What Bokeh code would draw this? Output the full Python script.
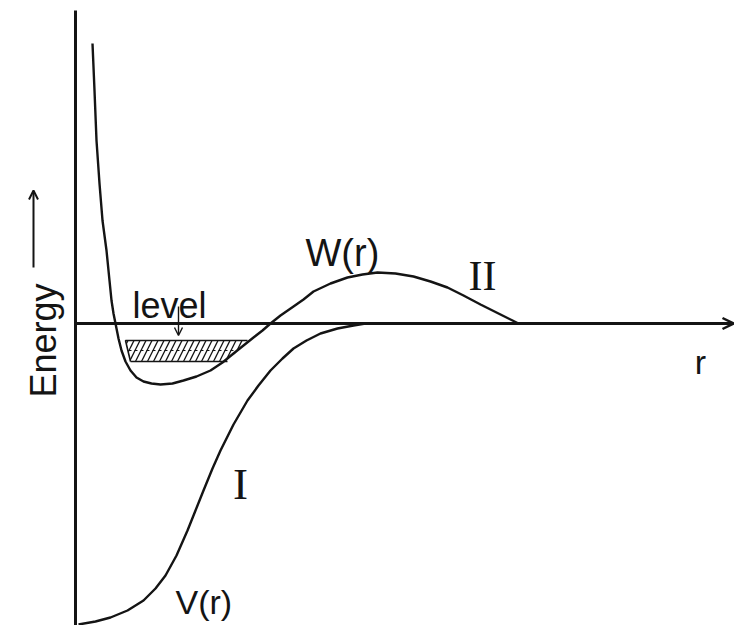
from math import pi

from bokeh.core.properties import value
from bokeh.embed import file_html
from bokeh.models import Arrow, OpenHead, Range1d
from bokeh.plotting import figure
from bokeh.resources import INLINE

# Schematic potential curves (arbitrary units): r along x, energy along y,
# energy zero on the r axis.
r_W = [17, 19, 21, 24, 27, 31, 34, 36, 38, 40, 43, 46, 50, 55, 61, 68, 76, 85,
       97, 108, 121, 135, 147, 158, 168, 178, 187, 195, 205, 218, 228, 238,
       255, 272, 287, 302, 320, 338, 355, 372, 388, 405, 425, 443]
E_W = [280, 233, 183, 140, 103, 73, 43, 23, 10, 0, -15, -27, -38, -47, -54,
       -58, -60, -61, -60, -57, -53, -47, -39, -30, -22, -14, -7, 0, 8, 17,
       24, 32, 40, 46, 49, 51, 50, 47, 42, 36, 28, 19, 9, 0]

r_V = [3, 20, 35, 52, 68, 80, 90, 101, 112, 120, 128, 137, 145, 158, 172,
       183, 195, 207, 218, 231, 245, 262, 278, 290]
E_V = [-301, -298, -294, -287, -277, -265, -252, -232, -207, -187, -167,
       -145, -127, -101, -77, -62, -47, -35, -25, -17, -10, -5, -2, 0]

# Quasi-bound level band inside the well of W(r)
band_r = [50, 172, 152, 55]
band_E = [-17, -17, -38, -38]
band_mid_E = -27

# Axes extents
r_axis_end = 658
E_axis_top = 313
E_axis_bottom = -302

INK = "#141414"
SANS = value("Liberation Sans")
SERIF = value("Liberation Serif")

p = figure(width=734, height=625, x_range=Range1d(-75, 659),
           y_range=Range1d(-302, 323), x_axis_type=None, y_axis_type=None,
           min_border=0, toolbar_location=None, output_backend="svg",
           outline_line_color=None, background_fill_color="white",
           border_fill_color="white")
p.grid.visible = False

# Energy axis (plain line) and r axis (open arrowhead)
p.line([0, 0], [E_axis_bottom, E_axis_top], line_color=INK, line_width=3)
p.add_layout(Arrow(x_start=0, y_start=0, x_end=r_axis_end, y_end=0,
                   line_color=INK, line_width=3,
                   end=OpenHead(size=11, line_color=INK, line_width=2.5)))

# Hatched level band
p.patch(band_r, band_E, fill_color=None, line_color=None,
        hatch_pattern="/", hatch_color=INK, hatch_scale=12, hatch_weight=1.3)
p.line([band_r[3], band_r[0], band_r[1]], [band_E[3], band_E[0], band_E[1]],
       line_color=INK, line_width=1.6)
p.line([band_r[3], band_r[2]], [band_E[3], band_E[2]],
       line_color=INK, line_width=1.6)
p.line([band_r[0] + 3, band_r[2] + 8], [band_mid_E, band_mid_E],
       line_color=INK, line_width=1.0, line_dash="3 3")

# Potential curves
p.line(r_W, E_W, line_color=INK, line_width=2.4, line_join="round")
p.line(r_V, E_V, line_color=INK, line_width=2.4, line_join="round")

# Arrow from the "level" label down to the band
p.add_layout(Arrow(x_start=103, y_start=17, x_end=103, y_end=-12,
                   line_color=INK, line_width=1.4,
                   end=OpenHead(size=8, line_color=INK, line_width=1.4)))

# Labels
p.text(x=[57], y=[18], text=["level"], text_font=SANS,
       text_font_size="36px", text_color=INK, text_baseline="alphabetic")
p.text(x=[230], y=[71], text=["W(r)"], text_font=SANS,
       text_font_size="38px", text_color=INK, text_baseline="alphabetic")
p.text(x=[100], y=[-278], text=["V(r)"], text_font=SANS,
       text_font_size="34px", text_color=INK, text_baseline="alphabetic")
p.text(x=[625], y=[-38], text=["r"], text_font=SANS,
       text_font_size="34px", text_color=INK, text_baseline="alphabetic",
       text_align="center")
p.text(x=[407], y=[48], text=["II"], text_font=SERIF,
       text_font_size="42px", text_color=INK, text_baseline="alphabetic",
       text_align="center")
p.text(x=[165], y=[-160], text=["I"], text_font=SERIF,
       text_font_size="45px", text_color=INK, text_baseline="alphabetic",
       text_align="center")

# Rotated energy label with its upward arrow
p.text(x=[-32], y=[-17], text=["Energy"], text_font=SANS,
       text_font_size="36px", text_color=INK, text_baseline="alphabetic",
       text_align="center", angle=pi / 2)
p.add_layout(Arrow(x_start=-42, y_start=56, x_end=-42, y_end=133,
                   line_color=INK, line_width=2,
                   end=OpenHead(size=9, line_color=INK, line_width=2)))

open("out.html", "w").write(file_html(p, INLINE))
